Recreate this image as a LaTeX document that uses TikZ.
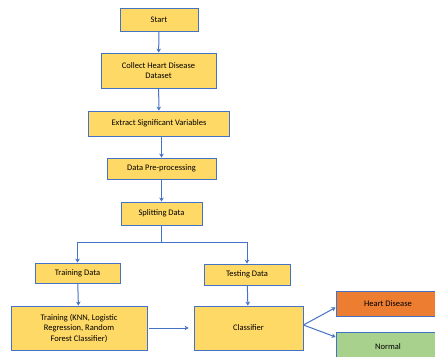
\documentclass[tikz,border=0pt]{standalone}
\usepackage{fontspec}
\setmainfont{Carlito}
\usetikzlibrary{arrows.meta}
\definecolor{stepyellow}{HTML}{FFD966}
\definecolor{edgeblue}{HTML}{4472C4}
\definecolor{diseaseorange}{HTML}{ED7D31}
\definecolor{normalgreen}{HTML}{A9D18E}

\begin{document}
\begin{tikzpicture}[x=1pt, y=-1pt,
    stepbox/.style={draw=edgeblue, line width=0.8pt, fill=stepyellow, align=center,
      inner sep=0pt, font=\fontsize{8.5}{10.5}\selectfont},
    flow/.style={draw=edgeblue, line width=1pt, -{Stealth[length=4pt,width=4.5pt]}}]
    \useasboundingbox (0,0) rectangle (435,356);
    \clip (0,0) rectangle (435,356);

    % Main pipeline
    \node[stepbox, minimum width=78pt, minimum height=23pt] (start) at (159,19.5) {Start};
    \node[stepbox, minimum width=115pt, minimum height=35pt] (collect) at (158.5,70.5) {Collect Heart Disease\\Dataset};
    \node[stepbox, minimum width=141pt, minimum height=25pt] (extract) at (159,123.5) {Extract Significant Variables};
    \node[stepbox, minimum width=109pt, minimum height=21pt] (prep) at (161.5,168.5) {Data Pre-processing};
    \node[stepbox, minimum width=81pt, minimum height=23pt] (split) at (161.5,213.5) {Splitting Data};

    % Two branches
    \node[stepbox, minimum width=85pt, minimum height=20pt] (traindata) at (77.5,273) {Training Data};
    \node[stepbox, minimum width=86pt, minimum height=21pt] (testdata) at (247,274.5) {Testing Data};
    \node[stepbox, minimum width=136pt, minimum height=44pt] (training) at (79,328) {Training (KNN, Logistic\\Regression, Random\\Forest Classifier)};
    \node[stepbox, minimum width=109pt, minimum height=44pt] (classifier) at (248.5,328) {Classifier};

    % Outcomes
    \node[stepbox, fill=diseaseorange, minimum width=104pt, minimum height=25pt] (heart) at (388,303.5) {Heart Disease};
    \node[stepbox, fill=normalgreen, minimum width=104pt, minimum height=30pt] (normal) at (388,347) {Normal};

    \draw[flow] (start) -- (collect);
    \draw[flow] (collect) -- (extract);
    \draw[flow] (extract.south -| prep) -- (prep);
    \draw[flow] (prep) -- (split);

    \coordinate (fork) at (161.5,242);
    \draw[edgeblue, line width=1pt] (split) -- (fork);
    \draw[flow] (fork) -| (traindata);
    \draw[flow] (fork) -| (testdata);

    \draw[flow] (traindata) -- (training);
    \draw[flow] (testdata) -- (classifier);
    \draw[flow, shorten <=2pt, shorten >=5pt] (training) -- (classifier);

    \draw[flow] ([yshift=3pt]classifier.east) -- ([yshift=-4pt]heart.west);
    \draw[flow] ([yshift=3pt]classifier.east) -- ([yshift=10pt]normal.west);
\end{tikzpicture}
\end{document}
